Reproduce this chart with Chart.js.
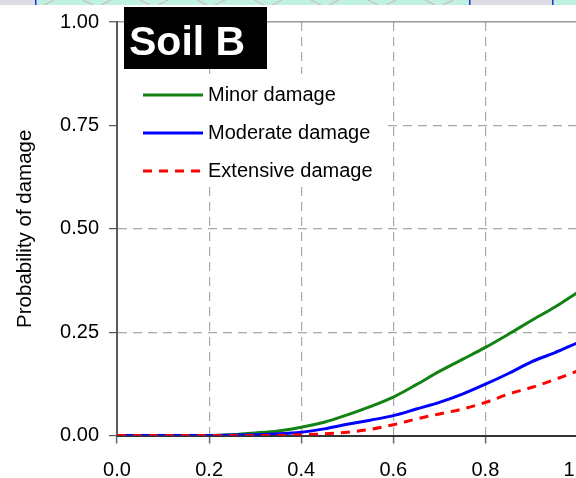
<!DOCTYPE html>
<html>
<head>
<meta charset="utf-8">
<title>Soil B – fragility curves</title>
<script src="https://cdn.jsdelivr.net/npm/chart.js@4.4.1/dist/chart.umd.min.js"></script>
<style>
  html, body { margin: 0; padding: 0; background: #fff; overflow: hidden; }
  #wrap { width: 576px; height: 478px; overflow: hidden; }
  canvas { display: block; }
</style>
</head>
<body>
<div id="wrap"><canvas id="chartSoilB" width="640" height="478"></canvas></div>
<script>
/* Fragility curves, soil class B
   x: spectral acceleration (g), y: probability of damage */

const pga = [0, 0.05, 0.1, 0.15, 0.2, 0.25, 0.3, 0.35, 0.4, 0.45, 0.5,
             0.55, 0.6, 0.65, 0.7, 0.75, 0.8, 0.85, 0.9, 0.95, 1.0];

const minorDamage = [0, 0, 0, 0, 0, 0.002, 0.006, 0.011, 0.02, 0.032, 0.05,
                     0.07, 0.093, 0.123, 0.155, 0.184, 0.213, 0.245, 0.278, 0.31, 0.346];

const moderateDamage = [0, 0, 0, 0, 0, 0.001, 0.002, 0.004, 0.008, 0.016, 0.027,
                        0.037, 0.048, 0.064, 0.08, 0.1, 0.124, 0.15, 0.178, 0.2, 0.224];

const extensiveDamage = [0, 0, 0, 0, 0, 0, 0, 0, 0.002, 0.004, 0.008,
                         0.015, 0.026, 0.04, 0.052, 0.064, 0.08, 0.1, 0.116, 0.135, 0.156];

const seriesLabels = ['Minor damage', 'Moderate damage', 'Extensive damage'];
const xTicks = [0, 0.2, 0.4, 0.6, 0.8, 1.0];
const yTicks = [0, 0.25, 0.5, 0.75, 1.0];

const FONT = "'Liberation Sans', Arial, sans-serif";
const GRID = '#a8a8a8';

const pts = (ys) => pga.map((x, i) => ({ x: x, y: ys[i] }));

// ── Page decoration strip + white background ─────────────────
const backdrop = {
  id: 'backdrop',
  beforeDraw(chart) {
    const c = chart.ctx;
    c.save();
    c.fillStyle = '#ffffff';
    c.fillRect(0, 0, chart.width, chart.height);
    c.fillStyle = '#dcdce4';
    c.fillRect(0, 0, 36, 5);
    c.fillStyle = '#bff0e2';
    c.fillRect(36, 0, 434, 5);
    c.fillStyle = '#dcdce4';
    c.fillRect(470, 0, 82, 5);
    c.fillStyle = '#bff0e2';
    c.fillRect(553, 0, 90, 5);
    c.beginPath();
    c.rect(36, 0, 433, 5);
    c.clip();
    c.strokeStyle = 'rgba(225,125,115,0.55)';
    c.lineWidth = 1;
    for (let x = 40; x < 480; x += 57) {
      c.beginPath();
      c.moveTo(x - 14, 0);
      c.lineTo(x - 4, 5);
      c.moveTo(x + 14, 0);
      c.lineTo(x + 4, 5);
      c.stroke();
    }
    c.restore();
    c.save();
    c.fillStyle = '#1f2fd0';
    c.fillRect(35, 0, 1.5, 5);
    c.fillRect(469, 0, 1.5, 5);
    c.fillRect(552, 0, 1.5, 5);
    c.restore();
  }
};

// ── Title box and legend inside the plot ─────────────────────
const overlay = {
  id: 'overlay',
  afterDatasetsDraw(chart) {
    const c = chart.ctx;
    c.save();

    // legend
    c.fillStyle = '#ffffff';
    c.fillRect(118, 74, 266, 112);
    const rows = [95, 133, 171];
    chart.data.datasets.forEach((ds, i) => {
      const y = rows[i];
      c.strokeStyle = ds.borderColor;
      c.lineWidth = ds.borderWidth;
      c.setLineDash(ds.borderDash || []);
      c.beginPath();
      c.moveTo(143, y);
      c.lineTo(203, y);
      c.stroke();
      c.setLineDash([]);
      c.fillStyle = '#000';
      c.font = '20px ' + FONT;
      c.textBaseline = 'middle';
      c.textAlign = 'left';
      c.fillText(ds.label, 208, y);
    });

    // "Soil B" tag
    c.fillStyle = '#000';
    c.fillRect(124, 7, 143, 62);
    c.fillStyle = '#fff';
    c.font = 'bold 41px ' + FONT;
    c.textBaseline = 'alphabetic';
    c.fillText('Soil B', 129, 55);
    c.restore();
  }
};

const ctx = document.getElementById('chartSoilB');

new Chart(ctx, {
  type: 'line',
  data: {
    datasets: [
      {
        label: seriesLabels[0],
        data: pts(minorDamage),
        borderColor: '#128212',
        borderWidth: 3,
        order: 3
      },
      {
        label: seriesLabels[1],
        data: pts(moderateDamage),
        borderColor: '#0000ff',
        borderWidth: 3,
        order: 2
      },
      {
        label: seriesLabels[2],
        data: pts(extensiveDamage),
        borderColor: '#ff0000',
        borderWidth: 3,
        borderDash: [9, 7],
        order: 1
      }
    ]
  },
  options: {
    responsive: false,
    animation: false,
    events: [],
    layout: { padding: { left: 0, top: 19, right: 62.5, bottom: 0 } },
    elements: {
      point: { radius: 0 },
      line: { cubicInterpolationMode: 'monotone', fill: false }
    },
    scales: {
      x: {
        type: 'linear',
        min: 0,
        max: 1,
        afterFit: (s) => { s.height = 42.5; },
        afterBuildTicks: (s) => { s.ticks = xTicks.map(v => ({ value: v })); },
        grid: {
          color: (c) => (c.tick && (c.tick.value === 0 || c.tick.value === 1)) ? 'rgba(0,0,0,0)' : GRID,
          lineWidth: 1.2,
          tickColor: '#666',
          tickLength: 8,
          tickWidth: 1.5
        },
        border: { color: '#333', width: 2, dash: [9, 6] },
        ticks: {
          color: '#000',
          padding: 15,
          maxRotation: 0,
          autoSkip: false,
          font: { family: FONT, size: 20 },
          callback: (v) => Number(v).toFixed(1)
        }
      },
      y: {
        type: 'linear',
        min: 0,
        max: 1,
        afterFit: (s) => { s.width = 117; },
        afterBuildTicks: (s) => { s.ticks = yTicks.map(v => ({ value: v })); },
        grid: {
          color: (c) => {
            if (!c.tick || c.tick.value === 0) return 'rgba(0,0,0,0)';
            return c.tick.value === 1 ? '#9a9a9a' : GRID;
          },
          lineWidth: (c) => (c.tick && c.tick.value === 1) ? 1.5 : 1.2,
          tickColor: '#555',
          tickLength: 8,
          tickWidth: 1.2
        },
        border: {
          color: '#5a5a5a',
          width: 2,
          dash: (c) => (c.tick && c.tick.value === 1) ? [] : [9, 6]
        },
        title: {
          display: true,
          text: 'Probability of damage',
          color: '#000',
          font: { family: FONT, size: 20.5 },
          padding: { top: 13, bottom: 0 }
        },
        ticks: {
          color: '#000',
          padding: 10,
          autoSkip: false,
          font: { family: FONT, size: 20 },
          callback: (v) => Number(v).toFixed(2)
        }
      }
    },
    plugins: {
      legend: { display: false },
      tooltip: { enabled: false }
    }
  },
  plugins: [backdrop, overlay]
});
</script>
</body>
</html>
